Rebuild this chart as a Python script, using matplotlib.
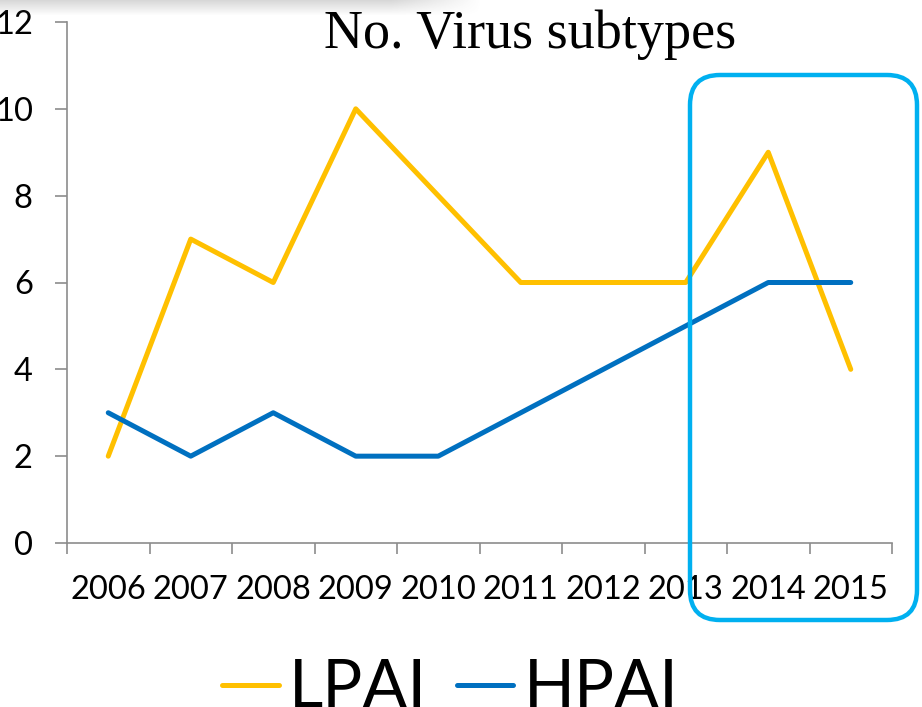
import numpy as np
import matplotlib
matplotlib.use("Agg")
import matplotlib.pyplot as plt
from matplotlib.patches import FancyBboxPatch
from matplotlib.transforms import IdentityTransform

# data
years = ['2006', '2007', '2008', '2009', '2010', '2011', '2012', '2013', '2014', '2015']
lpai = [2, 7, 6, 10, 8, 6, 6, 6, 9, 4]
hpai = [3, 2, 3, 2, 2, 3, 4, 5, 6, 6]
yticks = [0, 2, 4, 6, 8, 10, 12]

W, H = 922, 707
plt.rcParams['font.family'] = ['Lato', 'DejaVu Sans']

fig = plt.figure(figsize=(W / 100, H / 100), dpi=100)
ax = fig.add_axes([67 / W, 1 - 543 / H, (892 - 67) / W, (543 - 22) / H])

x = np.arange(len(years))
l1, = ax.plot(x, lpai, color='#FFC000', lw=3.6, solid_capstyle='round', solid_joinstyle='round', label='LPAI')
l2, = ax.plot(x, hpai, color='#0070C0', lw=3.6, solid_capstyle='round', solid_joinstyle='round', label='HPAI')

ax.set_xlim(-0.5, len(years) - 0.5)
ax.set_ylim(0, 12)
ax.set_yticks(yticks)
ax.set_yticklabels([str(v) for v in yticks])
ax.set_xticks(x)
ax.set_xticklabels(years)
ax.set_xticks(np.arange(-0.5, len(years)), minor=True)

axis_col = '#8c8c8c'
for s in ['top', 'right']:
    ax.spines[s].set_visible(False)
for s in ['left', 'bottom']:
    ax.spines[s].set_color(axis_col)
    ax.spines[s].set_linewidth(1.2)
    ax.spines[s].set_zorder(1)

ax.tick_params(axis='x', which='major', length=0, pad=23, labelsize=23.5)
ax.tick_params(axis='x', which='minor', length=8, width=1.2, color=axis_col, direction='out')
ax.tick_params(axis='y', length=8.6, width=1.2, color=axis_col, pad=16, labelsize=23.5)

# title
fig.text(530 / W, 1 - 48 / H, 'No. Virus subtypes', family='Liberation Serif', fontsize=39,
         ha='center', va='baseline')

# legend
leg = fig.legend(handles=[l1, l2], loc='lower left', bbox_to_anchor=(222 / W, -13 / H),
                 ncol=2, frameon=False, fontsize=48, handlelength=0.85, handletextpad=0.15,
                 columnspacing=0.45, borderaxespad=0, borderpad=0)

# highlight box round 2014-2015
box = FancyBboxPatch((690, H - 620), 917 - 690, 620 - 75, boxstyle='round,pad=0,rounding_size=30',
                     transform=IdentityTransform(), fill=False, ec='#00B0F0', lw=3.2, zorder=5)
fig.add_artist(box)

# faint shadow at top
sax = fig.add_axes([0, 1 - 16 / H, 480 / W, 16 / H])
sax.axis('off')
gy = np.linspace(0.28, 0, 16)[:, None]
gx = np.clip((480 - np.arange(480)) / 90, 0, 1)[None, :]
rgba = np.zeros((16, 480, 4))
rgba[..., :3] = 0.45
rgba[..., 3] = gy * gx
sax.imshow(rgba, aspect='auto', extent=[0, 1, 0, 1])

fig.savefig('out.png', dpi=100)
